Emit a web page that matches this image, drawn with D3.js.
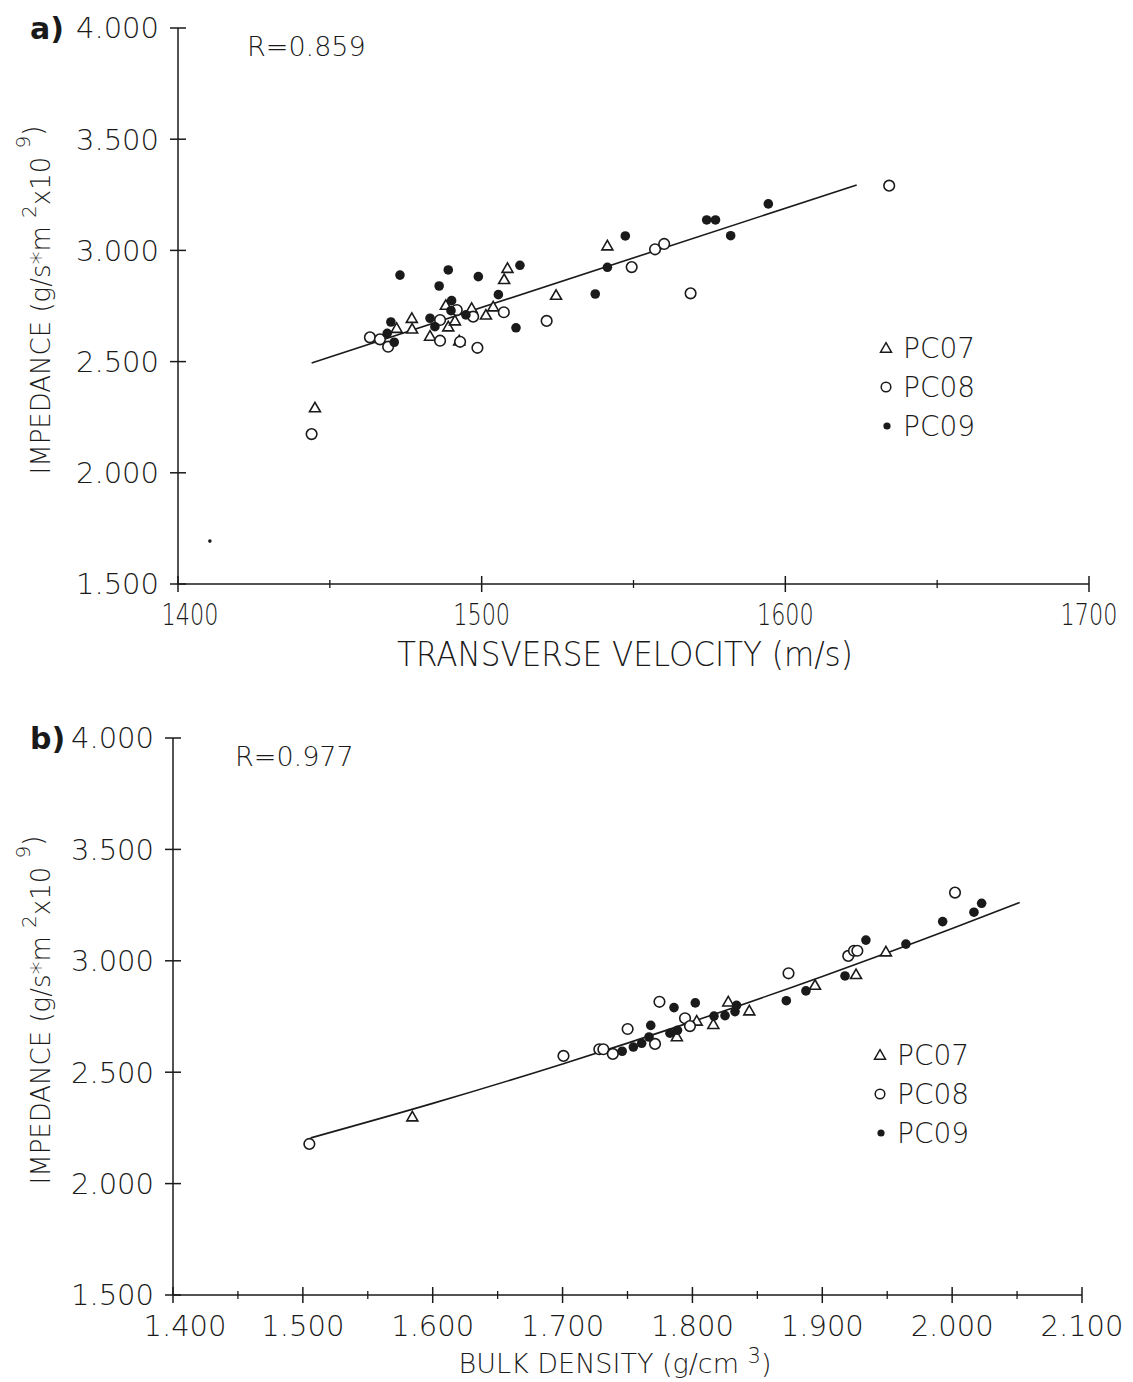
<!DOCTYPE html>
<html>
<head>
<meta charset="utf-8">
<script src="https://cdn.jsdelivr.net/npm/d3@7"></script>
<style>
  body { margin: 0; background: #fff; }
  text { font-family: "DejaVu Sans", "Liberation Sans", sans-serif; fill: #1a1a1a; }
</style>
</head>
<body>
<svg id="mainsvg" width="1133" height="1382"></svg>
<script>
// a) 横波速度 vs 阻抗
const legendNames = ["PC07", "PC08", "PC09"];

const aXTicks = [1400, 1500, 1600, 1700];
const aXMinor = [1450, 1550, 1650];
const yTicks = [1.5, 2.0, 2.5, 3.0, 3.5, 4.0];

const aPC07x = [1508.5, 1507.4, 1524.5, 1488.2, 1496.7, 1503.8, 1501.4, 1477.0, 1477.1, 1489.0, 1483.0, 1492.6, 1491.2, 1445.1, 1541.4, 1472.0];
const aPC07y = [2.920, 2.870, 2.799, 2.754, 2.740, 2.747, 2.710, 2.695, 2.647, 2.657, 2.615, 2.594, 2.684, 2.293, 3.021, 2.650];
const aPC08x = [1463.2, 1466.5, 1469.2, 1486.3, 1492.9, 1498.6, 1507.3, 1521.4, 1486.3, 1491.8, 1497.2, 1634.2, 1557.1, 1560.1, 1549.4, 1568.8, 1444.0];
const aPC08y = [2.609, 2.600, 2.567, 2.594, 2.589, 2.562, 2.722, 2.683, 2.687, 2.732, 2.702, 3.291, 3.005, 3.029, 2.925, 2.807, 2.174];
const aPC09x = [1473.1, 1489.0, 1498.9, 1486.0, 1512.6, 1505.5, 1490.1, 1489.9, 1494.8, 1483.0, 1484.6, 1470.1, 1468.9, 1471.2, 1511.3, 1594.4, 1574.1, 1577.0, 1582.0, 1547.3, 1541.4, 1537.4, 1410.5];
const aPC09y = [2.889, 2.912, 2.882, 2.840, 2.933, 2.801, 2.774, 2.729, 2.710, 2.695, 2.657, 2.678, 2.627, 2.587, 2.652, 3.209, 3.137, 3.137, 3.066, 3.065, 2.924, 2.804, 1.693];
const aFitX = [1444, 1623.5];
const aFitY = [2.494, 3.294];

// b) 体积密度 vs 阻抗
const bXTicks = [1.4, 1.5, 1.6, 1.7, 1.8, 1.9, 2.0, 2.1];
const bXMinor = [1.45, 1.55, 1.65, 1.75, 1.85, 1.95, 2.05];

const bPC07x = [1.5843, 1.8276, 1.8438, 1.8161, 1.8033, 1.8944, 1.926, 1.949, 1.788];
const bPC07y = [2.300, 2.816, 2.776, 2.715, 2.730, 2.891, 2.939, 3.041, 2.660];
const bPC08x = [1.505, 1.7007, 1.7283, 1.7314, 1.7387, 1.7501, 1.7746, 1.7943, 1.7981, 1.7712, 1.874, 1.920, 1.9244, 1.927, 2.0022];
const bPC08y = [2.178, 2.573, 2.603, 2.603, 2.582, 2.694, 2.816, 2.742, 2.707, 2.627, 2.944, 3.022, 3.045, 3.045, 3.306];
const bPC09x = [1.7858, 1.8022, 1.7679, 1.7666, 1.7609, 1.7545, 1.7459, 1.7827, 1.7885, 1.8166, 1.8251, 1.8328, 1.834, 1.8723, 1.8874, 1.9175, 1.9336, 1.9644, 1.9927, 2.0168, 2.0227];
const bPC09y = [2.790, 2.811, 2.710, 2.658, 2.630, 2.613, 2.594, 2.675, 2.688, 2.752, 2.754, 2.772, 2.800, 2.821, 2.865, 2.932, 3.093, 3.075, 3.176, 3.218, 3.258];
const bFitX = [1.506, 1.6, 1.7, 1.8, 1.9, 2.0, 2.052];
const bFitY = [2.205, 2.36, 2.537, 2.727, 2.93, 3.145, 3.262];

const svg = d3.select('#mainsvg');
const ink = "#1a1a1a";

const zip = (xs, ys) => xs.map((x, i) => ({ x: x, y: ys[i] }));

function drawPanel(p) {
  const g = svg.append("g");
  const x = p.x, y = p.y;

  // y轴
  g.append("line")
    .attr("x1", x.range()[0]).attr("x2", x.range()[0])
    .attr("y1", y(4)).attr("y2", y(1.5))
    .attr("stroke", ink).attr("stroke-width", 1.5);
  g.selectAll(".yt").data(yTicks).join("line")
    .attr("x1", x.range()[0] - 8).attr("x2", x.range()[0] + 8)
    .attr("y1", d => y(d)).attr("y2", d => y(d))
    .attr("stroke", ink).attr("stroke-width", 1.5);
  g.selectAll(".yl").data(yTicks).join("text")
    .attr("x", x.range()[0] - 19)
    .attr("y", d => y(d))
    .attr("dy", "0.36em")
    .attr("text-anchor", "end")
    .attr("font-size", 29)
    .attr("font-weight", 300)
    .text(d => d3.format(".3f")(d));

  // x轴
  g.append("line")
    .attr("x1", x.range()[0]).attr("x2", x.range()[1])
    .attr("y1", y(1.5)).attr("y2", y(1.5))
    .attr("stroke", ink).attr("stroke-width", 1.5);
  g.selectAll(".xt").data(p.xTicks).join("line")
    .attr("x1", d => x(d)).attr("x2", d => x(d))
    .attr("y1", y(1.5) - 8).attr("y2", y(1.5) + 8)
    .attr("stroke", ink).attr("stroke-width", 1.5);
  g.selectAll(".xm").data(p.xMinor).join("line")
    .attr("x1", d => x(d)).attr("x2", d => x(d))
    .attr("y1", y(1.5) - 4).attr("y2", y(1.5) + 4)
    .attr("stroke", ink).attr("stroke-width", 1.3);
  // 刻度标签 (a 图用压窄字体)
  const sx = p.narrowX ? 0.72 : 1;
  g.selectAll(".xl").data(p.xTicks).join("text")
    .attr("transform", d => `translate(${x(d) + (d === p.xTicks[0] ? 12 : 0)},${y(1.5) + 41}) scale(${sx},1)`)
    .attr("text-anchor", "middle")
    .attr("font-size", p.narrowX ? 31 : 29)
    .attr("font-weight", 300)
    .text(p.xFormat);

  // 拟合线
  g.append("path")
    .datum(zip(p.fitX, p.fitY))
    .attr("fill", "none")
    .attr("stroke", ink)
    .attr("stroke-width", 1.6)
    .attr("d", d3.line().x(d => x(d.x)).y(d => y(d.y)).curve(d3.curveMonotoneX));

  // 数据点
  const tri = d3.symbol().type(d3.symbolTriangle).size(52);
  g.append("g").selectAll("path").data(zip(p.s7x, p.s7y)).join("path")
    .attr("transform", d => `translate(${x(d.x)},${y(d.y) + 1})`)
    .attr("d", tri)
    .attr("fill", "#fff").attr("stroke", ink).attr("stroke-width", 1.6);
  g.append("g").selectAll("circle").data(zip(p.s8x, p.s8y)).join("circle")
    .attr("cx", d => x(d.x)).attr("cy", d => y(d.y)).attr("r", 5.3)
    .attr("fill", "#fff").attr("stroke", ink).attr("stroke-width", 1.6);
  g.append("g").selectAll("circle").data(zip(p.s9x, p.s9y)).join("circle")
    .attr("cx", d => x(d.x)).attr("cy", d => y(d.y))
    .attr("r", (d, i) => (p.smallLast && i === p.s9x.length - 1) ? 1.8 : 4.8)
    .attr("fill", ink);

  // 图例
  const lg = g.append("g").attr("transform", `translate(${p.legX},${p.legY})`);
  legendNames.forEach((name, i) => {
    const cy = i * 39;
    if (i === 0) lg.append("path").attr("transform", `translate(0,${cy + 1})`).attr("d", tri)
      .attr("fill", "#fff").attr("stroke", ink).attr("stroke-width", 1.5);
    if (i === 1) lg.append("circle").attr("cx", 0).attr("cy", cy).attr("r", 4.8)
      .attr("fill", "#fff").attr("stroke", ink).attr("stroke-width", 1.5);
    if (i === 2) lg.append("circle").attr("cx", 1).attr("cy", cy).attr("r", 3.6).attr("fill", ink);
    lg.append("text")
      .attr("x", 17).attr("y", cy).attr("dy", "0.36em")
      .attr("font-size", 28).attr("font-weight", 300)
      .text(name);
  });

  // 标题
  svg.append("text")
    .attr("x", 30).attr("y", y(4)).attr("dy", "0.36em")
    .attr("font-size", 30).attr("font-weight", "bold")
    .text(p.tag);
  svg.append("text")
    .attr("x", p.rX).attr("y", y(4) + 18).attr("dy", "0.36em")
    .attr("font-size", 27).attr("font-weight", 300)
    .text(p.rText);

  // y轴标题
  const yt = svg.append("text")
    .attr("transform", `translate(50,${p.yTitleY}) rotate(-90)`)
    .attr("text-anchor", "middle")
    .attr("font-size", 26).attr("font-weight", 300);
  yt.append("tspan").text("IMPEDANCE (g/s*m ");
  yt.append("tspan").attr("dy", -14).attr("font-size", 20).text("2");
  yt.append("tspan").attr("dy", 14).text("x10 ");
  yt.append("tspan").attr("dy", -20).attr("font-size", 20).text("9");
  yt.append("tspan").attr("dy", 12).text(")");

  // x轴标题
  const xt = svg.append("text")
    .attr("transform", `translate(${p.xTitleX},${y(1.5) + p.xTitleDy}) scale(${p.narrowX ? 0.94 : 1},1)`)
    .attr("text-anchor", "middle")
    .attr("font-size", p.narrowX ? 33 : 27).attr("font-weight", 300);
  p.xTitle(xt);
}

drawPanel({
  x: d3.scaleLinear().domain([1400, 1700]).range([178, 1089]),
  y: d3.scaleLinear().domain([1.5, 4]).range([584, 28]),
  xTicks: aXTicks, xMinor: aXMinor, narrowX: true,
  xFormat: d => d3.format("d")(d),
  fitX: aFitX, fitY: aFitY,
  s7x: aPC07x, s7y: aPC07y, s8x: aPC08x, s8y: aPC08y, s9x: aPC09x, s9y: aPC09y,
  smallLast: true,
  legX: 886, legY: 348,
  tag: "a)", rX: 247, rText: "R=0.859",
  yTitleY: 300,
  xTitleX: 625, xTitleDy: 82,
  xTitle: t => t.text("TRANSVERSE VELOCITY (m/s)")
});

drawPanel({
  x: d3.scaleLinear().domain([1.4, 2.1]).range([173, 1082]),
  y: d3.scaleLinear().domain([1.5, 4]).range([1295, 738]),
  xTicks: bXTicks, xMinor: bXMinor, narrowX: false,
  xFormat: d => d3.format(".3f")(d),
  fitX: bFitX, fitY: bFitY,
  s7x: bPC07x, s7y: bPC07y, s8x: bPC08x, s8y: bPC08y, s9x: bPC09x, s9y: bPC09y,
  smallLast: false,
  legX: 880, legY: 1055,
  tag: "b)", rX: 235, rText: "R=0.977",
  yTitleY: 1010,
  xTitleX: 615, xTitleDy: 78,
  xTitle: t => {
    t.append("tspan").text("BULK DENSITY (g/cm ");
    t.append("tspan").attr("dy", -10).attr("font-size", 21).text("3");
    t.append("tspan").attr("dy", 10).text(")");
  }
});
</script>
</body>
</html>
